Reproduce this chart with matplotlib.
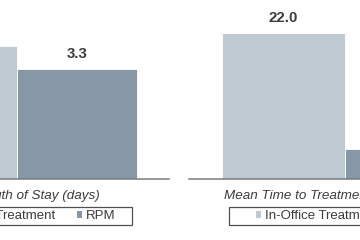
import matplotlib
matplotlib.use("Agg")
import matplotlib.pyplot as plt
from matplotlib.patches import Rectangle, Patch

plt.rcParams['font.family'] = ['Liberation Sans', 'DejaVu Sans']

series = ["In-Office Treatment", "RPM"]
titles = ["Mean Length of Stay (days)", "Mean Time to Treatment Initiation (days)"]
values_los = [4.0, 3.3]
values_ttt = [22.0, 4.5]
colors = ["#bfc9d1", "#8797a6"]

W, H = 360, 240
fig = plt.figure(figsize=(3.6, 2.4), dpi=100)

def fx(px):
    return px / W

def fy(py):
    return 1 - py / H

text_color = "#3c3c3c"

panels = [
    dict(vals=values_los, left=-134.5, right=169, ymax=179 / 33.2, title=titles[0]),
    dict(vals=values_ttt, left=189, right=501, ymax=179 / 6.62, title=titles[1]),
]

for p in panels:
    ax = fig.add_axes([fx(p['left']), fy(179), fx(p['right']) - fx(p['left']), fy(0) - fy(179)])
    x = [0, 1]
    ax.bar(x, p['vals'], width=1.0, color=colors, edgecolor='white', linewidth=0.6)
    ax.set_xlim(-0.77, 1.77)
    ax.set_ylim(0, p['ymax'])
    for s in ['top', 'left', 'right']:
        ax.spines[s].set_visible(False)
    ax.spines['bottom'].set_color('#7a7a7a')
    ax.spines['bottom'].set_linewidth(1.1)
    ax.set_xticks([])
    ax.set_yticks([])
    ax.patch.set_alpha(0)
    for xi, v in zip(x, p['vals']):
        ax.annotate(f"{v:.1f}", (xi, v), xytext=(0, 10.8), textcoords='offset points',
                    ha='center', va='center', fontsize=10.8, fontweight='bold', color=text_color)
    cx = (p['left'] + p['right']) / 2
    fig.text(fx(cx), fy(196.5), p['title'], ha='center', va='center', fontsize=9.7,
             style='italic', color=text_color)

handles = [Patch(facecolor=c, edgecolor='none') for c in colors]

leg_kw = dict(ncol=2, frameon=False, fontsize=9.5, handlelength=0.4, handleheight=0.4,
              handletextpad=0.3, columnspacing=1.65, borderpad=0, borderaxespad=0,
              labelcolor=text_color, bbox_transform=fig.transFigure)

fig.legend(handles, series, loc='center right', bbox_to_anchor=(fx(115.5), fy(216)), **leg_kw)
fig.legend(handles, series, loc='center left', bbox_to_anchor=(fx(256), fy(216)), **leg_kw)

for x0 in [-96, 229]:
    fig.patches.append(Rectangle((fx(x0), fy(225)), fx(228), fy(207) - fy(225),
                                 transform=fig.transFigure, fill=False,
                                 edgecolor='#505050', linewidth=0.9, figure=fig))

fig.savefig("out.png", dpi=100)
